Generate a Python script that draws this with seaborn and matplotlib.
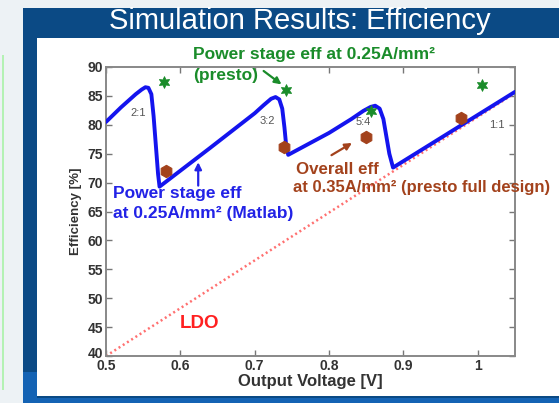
import matplotlib
matplotlib.use("Agg")
import matplotlib.pyplot as plt
import matplotlib.transforms as mtransforms
from matplotlib.patches import Rectangle
import seaborn as sns
import pandas as pd

# Simulated power-stage efficiency (Matlab), piecewise over conversion ratios
curve_v = [0.500, 0.520, 0.540, 0.548, 0.553, 0.557, 0.561, 0.564, 0.567, 0.570, 0.572,
           0.640, 0.700, 0.712, 0.722, 0.728, 0.733, 0.737, 0.740, 0.742, 0.745,
           0.800, 0.830, 0.846, 0.856, 0.862, 0.868, 0.873, 0.877, 0.881, 0.886,
           1.050]
curve_eff = [80.5, 83.0, 85.3, 86.1, 86.5, 86.4, 85.3, 81.5, 76.5, 71.5, 69.3,
             76.0, 82.0, 83.4, 84.5, 84.8, 84.4, 82.8, 79.5, 76.8, 74.8,
             78.6, 81.0, 82.4, 83.1, 83.3, 82.8, 81.0, 78.0, 75.0, 72.6,
             85.7]

# Power stage efficiency from presto at 0.25 A/mm^2
presto_v = [0.578, 0.742, 0.856, 1.006]
presto_eff = [87.4, 86.0, 82.4, 86.8]

# Overall efficiency, presto full design at 0.35 A/mm^2
overall_v = [0.581, 0.739, 0.850, 0.978]
overall_eff = [72.0, 76.1, 77.9, 81.1]

# LDO efficiency bound
ldo_v = [0.50, 1.05]
ldo_eff = [40.0, 85.5]

ratio_labels = ["2:1", "3:2", "5:4", "1:1"]
ratio_v = [0.543, 0.717, 0.846, 1.025]
ratio_eff = [82.0, 80.7, 80.5, 80.0]

x_ticks = [0.5, 0.6, 0.7, 0.8, 0.9, 1.0]
x_tick_labels = ["0.5", "0.6", "0.7", "0.8", "0.9", "1"]
y_ticks = [40, 45, 50, 55, 60, 65, 70, 75, 80, 85, 90]

sns.set_style("ticks")
plt.rcParams["font.family"] = ["Liberation Sans", "DejaVu Sans"]

W, H = 559, 403
fig = plt.figure(figsize=(W / 100, H / 100), dpi=100)
fig.patch.set_facecolor("#edf2f5")


def px_rect(x0, y0, x1, y1, color, z=0):
    fig.patches.append(Rectangle((x0 / W, 1 - y1 / H), (x1 - x0) / W, (y1 - y0) / H,
                                 transform=fig.transFigure, facecolor=color,
                                 edgecolor="none", zorder=z))


# slide frame
px_rect(2, 55, 4, 390, "#b4f2b4")
px_rect(23, 8, W, H, "#0b4a85")
px_rect(23, 372, 37, H, "#1463b4", 1)
px_rect(23, 398, W, H, "#1463b4", 1)
px_rect(37, 38, W, 396, "#ffffff", 2)
fig.text(300 / W, 1 - 29 / H, "Simulation Results: Efficiency", color="white",
         fontsize=21, ha="center", va="baseline", zorder=5)

ax = fig.add_axes([106 / W, 1 - 356 / H, (515 - 106) / W, (356 - 67) / H], zorder=3)
ax.set_facecolor("white")

sns.lineplot(data=pd.DataFrame({"v": ldo_v, "eff": ldo_eff}), x="v", y="eff", ax=ax,
             color="#ff7070", linewidth=1.8, linestyle=(0, (0.8, 1.2)), zorder=2)
sns.lineplot(data=pd.DataFrame({"v": curve_v, "eff": curve_eff}), x="v", y="eff", ax=ax,
             sort=False, color="#1414ee", linewidth=2.8, zorder=3)
sns.scatterplot(data=pd.DataFrame({"v": presto_v, "eff": presto_eff}), x="v", y="eff", ax=ax,
                marker=(6, 1, 0), s=70, color="#1a8c2a", edgecolor="#1a8c2a", zorder=4)
sns.scatterplot(data=pd.DataFrame({"v": overall_v, "eff": overall_eff}), x="v", y="eff", ax=ax,
                marker="h", s=80, color="#a3421c", edgecolor="#a3421c", zorder=4)

for lab, v, e in zip(ratio_labels, ratio_v, ratio_eff):
    ax.text(v, e, lab, color="#555555", fontsize=8, ha="center", va="center", zorder=5)

ax.set_xlim(0.5, 1.05)
ax.set_ylim(40, 90)
ax.set_xticks(x_ticks)
ax.set_xticklabels(x_tick_labels)
ax.set_yticks(y_ticks)
ax.tick_params(direction="in", length=4, width=1, color="#777777", top=True, right=True,
               labelsize=10, labelcolor="#333333", pad=2)
for lbl in ax.get_xticklabels() + ax.get_yticklabels():
    lbl.set_fontweight("bold")
# lift the bottom y label a little so it clears the first x label
lift = mtransforms.ScaledTranslation(0, 3 / 100, fig.dpi_scale_trans)
bottom_lbl = ax.get_yticklabels()[0]
bottom_lbl.set_transform(bottom_lbl.get_transform() + lift)
for s in ax.spines.values():
    s.set_visible(True)
    s.set_color("#888888")
    s.set_linewidth(1.4)
ax.set_xlabel("Output Voltage [V]", fontsize=12, fontweight="bold", color="#333333", labelpad=1)
ax.set_ylabel("Efficiency [%]", fontsize=9.5, fontweight="bold", color="#333333", labelpad=4)

green, blue, brown = "#1a8c2a", "#2222e6", "#a3421c"
ax.text(0.617, 92.1, "Power stage eff at 0.25A/mm²", color=green, fontsize=12.5,
        fontweight="bold", va="center", clip_on=False, zorder=6)
ax.text(0.617, 88.6, "(presto)", color=green, fontsize=12.5, fontweight="bold",
        va="center", zorder=6)
ax.annotate("", xy=(0.739, 86.7), xytext=(0.709, 89.6),
            arrowprops=dict(arrowstyle="-|>", color=green, lw=1.6, mutation_scale=10), zorder=6)

ax.text(0.509, 68.2, "Power stage eff", color=blue, fontsize=12.5, fontweight="bold",
        va="center", zorder=6)
ax.text(0.509, 64.7, "at 0.25A/mm² (Matlab)", color=blue, fontsize=12.5, fontweight="bold",
        va="center", zorder=6)
ax.annotate("", xy=(0.624, 74.0), xytext=(0.624, 69.0),
            arrowprops=dict(arrowstyle="-|>", color=blue, lw=1.6, mutation_scale=10), zorder=6)

ax.text(0.756, 72.2, "Overall eff", color=brown, fontsize=12.2, fontweight="bold",
        va="center", zorder=6)
ax.text(0.751, 69.1, "at 0.35A/mm² (presto full design)", color=brown, fontsize=12,
        fontweight="bold", va="center", clip_on=False, zorder=6)
ax.annotate("", xy=(0.834, 77.1), xytext=(0.800, 74.5),
            arrowprops=dict(arrowstyle="-|>", color=brown, lw=1.6, mutation_scale=10), zorder=6)

ax.text(0.626, 45.7, "LDO", color="#ff2020", fontsize=13.5, fontweight="bold",
        ha="center", va="center", zorder=6)

fig.savefig("out.png", dpi=100, facecolor=fig.get_facecolor())
